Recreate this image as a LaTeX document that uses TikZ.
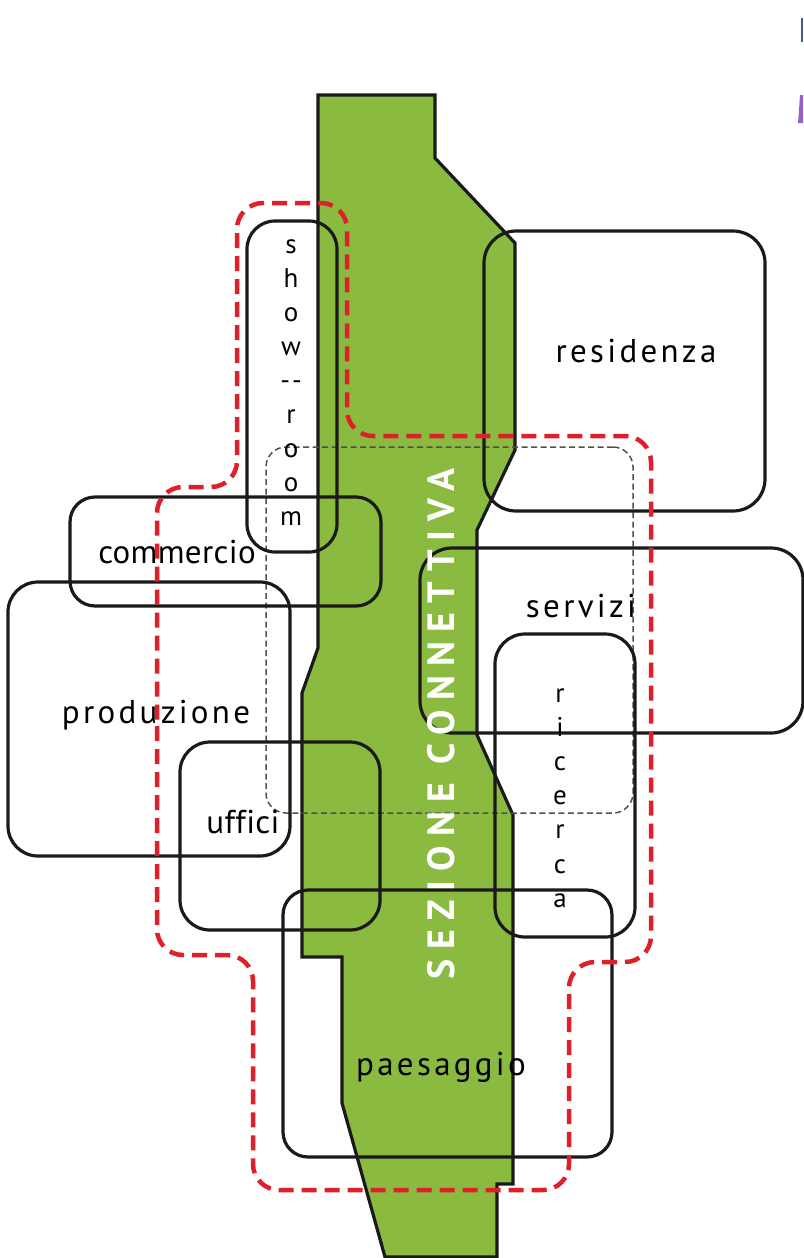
\documentclass[tikz,border=0pt]{standalone}
\usepackage{fontspec}
\setmainfont{PT Sans}
\newfontfamily\lblfont[LetterSpace=10,Ligatures=NoCommon]{PT Sans}
\newfontfamily\lbltight[LetterSpace=1,Ligatures=NoCommon]{PT Sans}
\newfontfamily\titfont[LetterSpace=24]{PT Sans}
\definecolor{zgreen}{RGB}{139,186,64}
\definecolor{zred}{RGB}{222,32,42}
\definecolor{zgray}{RGB}{80,80,80}
\definecolor{zline}{RGB}{26,26,26}
\definecolor{zblue}{RGB}{62,92,150}
\definecolor{zpurple}{RGB}{147,98,196}
\begin{document}
\begin{tikzpicture}[x=1pt,y=-1pt,
  zone/.style={draw=zline, line width=3.2pt, rectangle, rounded corners=#1, inner sep=0pt, fill=none},
  zone/.default=28pt,
  lbl/.style={font=\lblfont\fontsize{33}{36}\selectfont, anchor=base, inner sep=0pt, text=black},
  lbltt/.style={font=\lbltight\fontsize{33}{36}\selectfont, anchor=base, inner sep=0pt, text=black},
  vl/.style={font=\fontsize{27}{29}\selectfont, anchor=base, inner sep=0pt, text=black},
  spine/.style={fill=zgreen, draw=zline, line width=3.2pt, line join=miter},
  reddash/.style={draw=zred, line width=4.5pt, dash pattern=on 15pt off 8pt, rounded corners=26pt},
  graydash/.style={draw=zgray, line width=1.5pt, dash pattern=on 6pt off 3.5pt, rectangle, rounded corners=20pt, inner sep=0pt}]
\useasboundingbox (0,0) rectangle (803,1258);
% green connective spine
\draw[spine] (318,95) -- (435,95) -- (435,158) -- (515,243) -- (515,450) -- (477,530)
  -- (477,735) -- (513,815) -- (513,1184) -- (497,1184) -- (497,1257) -- (385,1257)
  -- (342,1103) -- (342,957) -- (302,957) -- (302,693) -- (318,648) -- cycle;
% grey dashed area
\node[graydash, minimum width=367pt, minimum height=366pt] (core) at (449.5,630) {};
% zones
\node[zone=28pt, minimum width=90pt, minimum height=331pt] (showroom) at (292,386.5) {};
\node[zone=32pt, minimum width=281pt, minimum height=280pt] (residenza) at (624.5,371) {};
\node[zone=25pt, minimum width=311pt, minimum height=109pt] (commercio) at (225.5,551.5) {};
\node[zone=30pt, minimum width=282pt, minimum height=274pt] (produzione) at (149,719) {};
\node[zone=30pt, minimum width=200pt, minimum height=188pt] (uffici) at (280,836) {};
\node[zone=32pt, minimum width=383pt, minimum height=185pt] (servizi) at (611.5,640.5) {};
\node[zone=30pt, minimum width=140pt, minimum height=303pt] (ricerca) at (565,785.5) {};
\node[zone=25pt, minimum width=329pt, minimum height=267pt] (paesaggio) at (447.5,1023.5) {};
% labels
\node[lbl] (tresidenza) at (636,362) {residenza};
\node[lbl] (tservizi) at (581,617) {servizi};
\node[lbltt] (tcommercio) at (177,563) {commercio};
\node[lbl] (tproduzione) at (156,723) {produzione};
\node[lbltt] (tuffici) at (243,833) {uffici};
\node[lbl] (tpaesaggio) at (441,1075) {paesaggio};
\foreach \c [count=\i] in {s,h,o,w,{-\kern2pt-},r,o,o,m}
  \node[vl] (sr\i) at (291,253+34*\i-34) {\c};
\foreach \c [count=\i] in {r,i,c,e,r,c,a}
  \node[vl] (ri\i) at (560,702+34.2*\i-34.2) {\c};
\node[rotate=90, inner sep=0pt, text=white, font=\titfont\bfseries\fontsize{38}{40}\selectfont] (title) at (441,724) {SEZIONE CONNETTIVA};
% red dashed boundary
\draw[reddash] (157,700) -- (157,955) -- (253,955) -- (253,1190) -- (569,1190) -- (569,962)
  -- (651,962) -- (651,436) -- (347,436) -- (347,203) -- (237,203) -- (237,487)
  -- (157,487) -- cycle;
% cropped marks at the right edge
\fill[zblue] (801,18) rectangle (803,42);
\fill[zpurple] (800,95) -- (803,95) -- (803,123) -- (798,123) -- (799,110) -- cycle;
\end{tikzpicture}
\end{document}
